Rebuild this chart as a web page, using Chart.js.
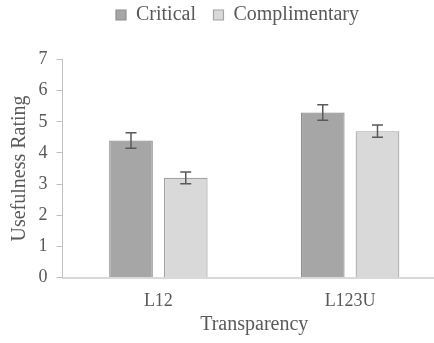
<!DOCTYPE html>
<html>
<head>
<meta charset="utf-8">
<script src="https://cdn.jsdelivr.net/npm/chart.js@4/dist/chart.umd.min.js"></script>
<style>
html,body{margin:0;padding:0;background:#fff;overflow:hidden;width:434px;height:343px;}
canvas{display:block;}
</style>
</head>
<body>
<canvas id="c" width="446" height="343"></canvas>
<script>
const categories = ['L12', 'L123U'];
const seriesNames = ['Critical', 'Complimentary'];
const criticalValues = [4.4, 5.3];
const complimentaryValues = [3.2, 4.7];
const criticalErrors = [0.25, 0.25];
const complimentaryErrors = [0.19, 0.2];
const yTicks = [0, 1, 2, 3, 4, 5, 6, 7];

const FONT = "'Liberation Serif', 'Times New Roman', serif";
const TEXT = '#595959';

const errorBars = {
  id: 'errorBars',
  afterDatasetsDraw(chart) {
    const ctx = chart.ctx;
    const y = chart.scales.y;
    ctx.save();
    ctx.strokeStyle = '#595959';
    ctx.lineWidth = 1.5;
    chart.data.datasets.forEach((ds, di) => {
      const meta = chart.getDatasetMeta(di);
      meta.data.forEach((bar, i) => {
        const v = ds.data[i], e = ds.errors[i];
        const yt = y.getPixelForValue(v + e), yb = y.getPixelForValue(v - e);
        const x = bar.x, hw = 5.5;
        ctx.beginPath();
        ctx.moveTo(x, yt); ctx.lineTo(x, yb);
        ctx.moveTo(x - hw, yt); ctx.lineTo(x + hw, yt);
        ctx.moveTo(x - hw, yb); ctx.lineTo(x + hw, yb);
        ctx.stroke();
      });
    });
    ctx.restore();
  }
};

const legendShift = {
  id: 'legendShift',
  afterLayout(chart) {
    const lg = chart.legend;
    if (!lg) return;
    const h = lg.bottom - lg.top;
    lg.left += 14.5; lg.right += 14.5;
    lg.top = 15 - 17.5 - 10; lg.bottom = lg.top + h;
  }
};

new Chart(document.getElementById('c'), {
  type: 'bar',
  data: {
    labels: categories,
    datasets: [
      { label: seriesNames[0], data: criticalValues, errors: criticalErrors,
        backgroundColor: '#a6a6a6', borderColor: '#8f8f8f', borderWidth: 1.2 },
      { label: seriesNames[1], data: complimentaryValues, errors: complimentaryErrors,
        backgroundColor: '#d9d9d9', borderColor: '#a3a3a3', borderWidth: 1.2 }
    ]
  },
  options: {
    responsive: false,
    devicePixelRatio: 1,
    animation: false,
    layout: { padding: { top: 12, left: 0, right: 0, bottom: 0 } },
    datasets: { bar: { categoryPercentage: 0.571, barPercentage: 0.798 } },
    plugins: {
      tooltip: { enabled: false },
      legend: {
        position: 'top',
        labels: {
          boxWidth: 10, boxHeight: 10, padding: 17.5,
          color: TEXT,
          font: { family: FONT, size: 20 }
        }
      }
    },
    scales: {
      x: {
        grid: { display: true, drawOnChartArea: false, drawTicks: false },
        border: { display: true, color: '#d9d9d9', width: 2 },
        ticks: { color: TEXT, font: { family: FONT, size: 18 }, padding: 13 },
        title: { display: true, text: 'Transparency', color: TEXT,
                 font: { family: FONT, size: 20 }, padding: { top: 4, bottom: 6 } },
        afterFit(s) { s.height = 65.5; }
      },
      y: {
        min: 0, max: 7,
        afterBuildTicks(s) { s.ticks = yTicks.map(v => ({ value: v })); },
        grid: { display: true, drawOnChartArea: false, drawTicks: true, tickLength: 6, color: '#bfbfbf' },
        border: { display: true, color: '#bfbfbf', width: 1 },
        ticks: { color: TEXT, font: { family: FONT, size: 18 }, padding: 9 },
        title: { display: true, text: 'Usefulness Rating', color: TEXT,
                 font: { family: FONT, size: 20 }, padding: { top: 8, bottom: 4 } },
        afterFit(s) { s.width = 62.5; }
      }
    }
  },
  plugins: [errorBars, legendShift]
});
</script>
</body>
</html>
